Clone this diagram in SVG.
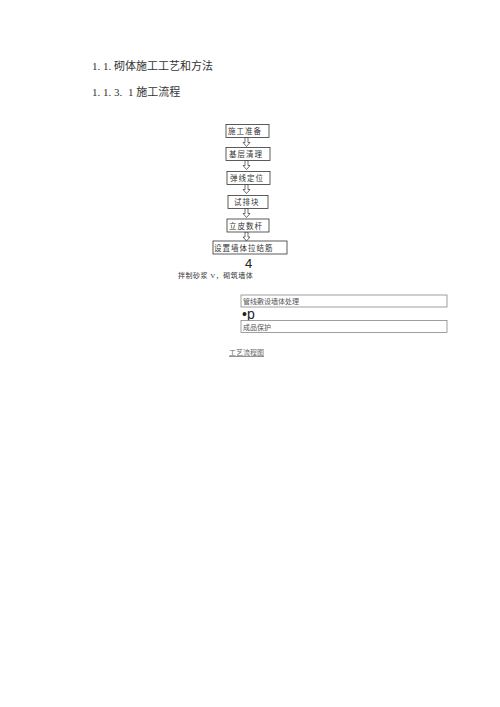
<svg xmlns="http://www.w3.org/2000/svg" width="500" height="707" viewBox="0 0 500 707">
<style>
text{font-family:"Liberation Serif","Noto Sans CJK SC",serif;fill:#333}
.h{font-size:11px}
.b{font-size:7.5px;letter-spacing:1px}
.s{font-size:7px}
rect.n{fill:#fff;stroke:#333;stroke-width:0.8}
rect.g{fill:#fff;stroke:#888;stroke-width:0.8}
.ar{fill:#fff;stroke:#333;stroke-width:0.7}
</style>
<rect width="500" height="707" fill="#fff"/>
<text class="h" x="92" y="70">1. 1. 砌体施工工艺和方法</text>
<text class="h" x="92" y="96">1. 1. 3.</text>
<text class="h" x="128" y="96">1 施工流程</text>
<g id="connectors">
<path class="ar" d="M245,137.5 h3 v5 h2 l-3.5,4 l-3.5,-4 h2 z"/>
<path class="ar" d="M245,160.5 h3 v5 h2 l-3.5,4 l-3.5,-4 h2 z"/>
<path class="ar" d="M245,184.5 h3 v5 h2 l-3.5,4 l-3.5,-4 h2 z"/>
<path class="ar" d="M245,208.5 h3 v5 h2 l-3.5,4 l-3.5,-4 h2 z"/>
<path class="ar" d="M245,232 h3 v5 h2 l-3.5,4 l-3.5,-4 h2 z"/>
</g>
<g id="n1"><rect class="n" x="226" y="124.5" width="43" height="13"/><text class="b" x="228" y="134">施工准备</text></g>
<g id="n2"><rect class="n" x="226" y="147.5" width="44" height="13"/><text class="b" x="229" y="157">基层清理</text></g>
<g id="n3"><rect class="n" x="227" y="171.5" width="43" height="13"/><text class="b" x="230" y="181">弹线定位</text></g>
<g id="n4"><rect class="n" x="228" y="195.5" width="40" height="13"/><text class="b" x="234" y="205">试排块</text></g>
<g id="n5"><rect class="n" x="227" y="219" width="42" height="13"/><text class="b" x="229" y="228.5">立皮数杆</text></g>
<g id="n6"><rect class="n" x="213" y="241" width="74" height="13"/><text class="b" x="214" y="250.5">设置墙体拉结筋</text></g>
<text x="245" y="268" style="font-family:'Liberation Sans',sans-serif;font-size:13px;fill:#222">4</text>
<text class="s" x="178" y="278" style="letter-spacing:0.5px">拌制砂浆 V，砌筑墙体</text>
<g id="n7"><rect class="g" x="241" y="295" width="206" height="12"/><text class="s" x="243" y="304" style="fill:#555">管线敷设墙体处理</text></g>
<text x="242" y="318.5" style="font-family:'Liberation Sans',sans-serif;font-size:14px;fill:#222">•p</text>
<g id="n8"><rect class="g" x="241" y="320.5" width="206" height="12"/><text class="s" x="243" y="329.5" style="fill:#555">成品保护</text></g>
<text class="s" x="229" y="355" style="fill:#666;text-decoration:underline">工艺流程图</text>
</svg>
